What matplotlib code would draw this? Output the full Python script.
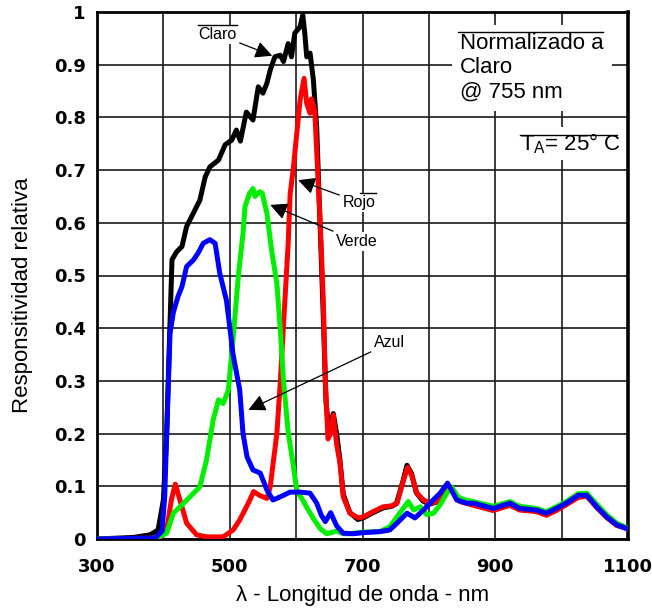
import matplotlib
matplotlib.use('Agg')
import matplotlib.pyplot as plt
from matplotlib.lines import Line2D

# wavelength (nm) / relative responsivity
claro_x = [300, 355, 380, 392, 400, 405, 408, 413, 420, 428, 435, 445, 455, 463, 470, 483,
           493, 503, 510, 516, 525, 535, 543, 550, 556, 561, 568, 576, 581, 588, 593, 598,
           606, 610, 613, 616, 621, 626, 631, 636, 641, 645, 649, 656, 661, 666, 671, 681,
           693, 701, 716, 731, 744, 751, 761, 767, 774, 781, 791, 801, 811, 821, 829, 837,
           847, 867, 897, 922, 937, 962, 977, 992, 1007, 1025, 1038, 1053, 1068, 1083, 1098]
claro_y = [0, 0.003, 0.008, 0.017, 0.074, 0.2, 0.33, 0.53, 0.545, 0.555, 0.593, 0.618, 0.643,
           0.687, 0.706, 0.719, 0.748, 0.757, 0.776, 0.755, 0.81, 0.795, 0.858, 0.846, 0.865,
           0.89, 0.915, 0.918, 0.906, 0.94, 0.915, 0.96, 0.972, 0.994, 0.96, 0.915, 0.922,
           0.871, 0.78, 0.6, 0.42, 0.26, 0.21, 0.238, 0.2, 0.15, 0.085, 0.05, 0.037, 0.04, 0.05,
           0.059, 0.062, 0.067, 0.11, 0.14, 0.124, 0.088, 0.072, 0.066, 0.07, 0.084, 0.1, 0.088,
           0.072, 0.065, 0.055, 0.065, 0.056, 0.053, 0.046, 0.055, 0.066, 0.08, 0.082, 0.06,
           0.041, 0.026, 0.02]

rojo_x = [300, 395, 405, 412, 418, 425, 435, 450, 465, 490, 505, 515, 528, 536, 546, 556, 561,
          566, 571, 576, 583, 588, 591, 596, 601, 606, 612, 616, 621, 623, 628, 632, 637, 641,
          644, 648, 652, 656, 661, 666, 671, 681, 694, 701, 716, 731, 744, 752, 762, 768, 774,
          782, 792, 802, 812, 822, 829, 837, 847, 867, 897, 922, 937, 962, 977, 992, 1007,
          1025, 1038, 1053, 1068, 1083, 1098]
rojo_y = [0, 0.002, 0.017, 0.074, 0.104, 0.074, 0.03, 0.008, 0.004, 0.004, 0.017, 0.036,
          0.068, 0.09, 0.082, 0.077, 0.099, 0.15, 0.2, 0.295, 0.45, 0.56, 0.654, 0.706, 0.77,
          0.833, 0.874, 0.826, 0.808, 0.835, 0.814, 0.71, 0.58, 0.45, 0.3, 0.19, 0.2, 0.235,
          0.18, 0.144, 0.08, 0.049, 0.04, 0.042, 0.052, 0.061, 0.063, 0.068, 0.112, 0.136,
          0.121, 0.087, 0.074, 0.068, 0.071, 0.083, 0.099, 0.087, 0.071, 0.064, 0.054, 0.064,
          0.055, 0.052, 0.045, 0.054, 0.065, 0.079, 0.081, 0.06, 0.041, 0.026, 0.02]

verde_x = [300, 370, 390, 405, 415, 425, 440, 455, 465, 475, 483, 490, 498, 505, 513, 520,
           523, 530, 535, 538, 545, 549, 556, 563, 571, 576, 581, 588, 596, 601, 608, 616,
           626, 636, 646, 661, 671, 681, 701, 726, 741, 756, 769, 777, 787, 797, 807, 817,
           827, 834, 844, 852, 867, 897, 922, 937, 962, 977, 992, 1007, 1025, 1038, 1053,
           1068, 1083, 1100]
verde_y = [0, 0, 0.002, 0.011, 0.049, 0.061, 0.08, 0.099, 0.15, 0.226, 0.264, 0.257, 0.283,
           0.38, 0.5, 0.58, 0.631, 0.656, 0.665, 0.65, 0.659, 0.656, 0.618, 0.548, 0.485, 0.4,
           0.3, 0.203, 0.137, 0.092, 0.078, 0.06, 0.039, 0.02, 0.01, 0.015, 0.01, 0.01, 0.013,
           0.014, 0.023, 0.049, 0.071, 0.055, 0.061, 0.046, 0.049, 0.065, 0.087, 0.099, 0.08,
           0.075, 0.071, 0.062, 0.071, 0.062, 0.058, 0.052, 0.061, 0.071, 0.086, 0.087, 0.066,
           0.046, 0.03, 0.02]

azul_x = [300, 388, 398, 402, 405, 410, 415, 422, 428, 435, 445, 452, 460, 470, 478, 485, 495,
          500, 505, 515, 520, 526, 535, 546, 556, 565, 576, 591, 606, 621, 631, 638, 644, 652,
          661, 671, 686, 701, 726, 741, 752, 767, 779, 792, 804, 817, 828, 834, 842, 857, 867,
          897, 922, 937, 962, 977, 992, 1007, 1025, 1038, 1053, 1068, 1083, 1098]
azul_y = [0, 0.002, 0.015, 0.08, 0.2, 0.39, 0.43, 0.46, 0.479, 0.517, 0.529, 0.542, 0.561,
          0.568, 0.561, 0.504, 0.453, 0.402, 0.35, 0.283, 0.2, 0.156, 0.131, 0.125, 0.093,
          0.074, 0.08, 0.089, 0.089, 0.087, 0.068, 0.045, 0.033, 0.05, 0.025, 0.011, 0.01,
          0.012, 0.014, 0.017, 0.03, 0.049, 0.04, 0.055, 0.071, 0.087, 0.106, 0.093, 0.074,
          0.068, 0.068, 0.058, 0.068, 0.058, 0.055, 0.049, 0.058, 0.068, 0.083, 0.083, 0.061,
          0.042, 0.027, 0.02]

x_ticks = [300, 500, 700, 900, 1100]
y_ticks = [0, 0.1, 0.2, 0.3, 0.4, 0.5, 0.6, 0.7, 0.8, 0.9, 1]
y_tick_labels = ['0', '0.1', '0.2', '0.3', '0.4', '0.5', '0.6', '0.7', '0.8', '0.9', '1']

plt.rcParams['font.family'] = ['Liberation Sans', 'DejaVu Sans']

fig = plt.figure(figsize=(6.52, 6.09), dpi=100)
ax = fig.add_axes([97/652, 70/609, 531/652, 527/609])

lw = 3.6
ax.plot(claro_x, claro_y, color='black', lw=lw, solid_joinstyle='round', zorder=3)
ax.plot(rojo_x, rojo_y, color='#ff0000', lw=lw, solid_joinstyle='round', zorder=4)
ax.plot(verde_x, verde_y, color='#00ee00', lw=lw, solid_joinstyle='round', zorder=5)
ax.plot(azul_x, azul_y, color='#0000ff', lw=lw, solid_joinstyle='round', zorder=6)

ax.set_xlim(300, 1100)
ax.set_ylim(0, 1)
grid_x = list(range(300, 1101, 100))
ax.set_xticks(grid_x)
ax.set_xticklabels([str(v) if v in x_ticks else '' for v in grid_x],
                   fontfamily='DejaVu Sans', fontweight='bold', fontsize=13)
ax.set_yticks(y_ticks)
ax.set_yticklabels(y_tick_labels, fontfamily='DejaVu Sans', fontweight='bold', fontsize=13)
ax.tick_params(axis='x', length=0, pad=14)
ax.tick_params(axis='y', length=0, pad=8)
ax.grid(True, color='#1a1a1a', lw=1.2, zorder=1)
ax.set_axisbelow(True)
for s in ax.spines.values():
    s.set_linewidth(2)
ax.spines['right'].set_linewidth(2.6)

ax.set_xlabel('λ - Longitud de onda - nm', fontsize=16, labelpad=6)
ax.set_ylabel('Responsitividad relativa', fontsize=16)
ax.yaxis.set_label_coords(-0.121, 0.462)

box = dict(facecolor='white', edgecolor='none', pad=1.5)
arrow = dict(arrowstyle='-|>,head_length=0.9,head_width=0.45', color='black', lw=0.9,
             shrinkA=1, shrinkB=0)
ax.annotate('Claro', xy=(564, 0.917), xytext=(481, 0.958), fontsize=11.5,
            ha='center', va='center', bbox=box, arrowprops=arrow, zorder=8)
ax.annotate('Rojo', xy=(603, 0.681), xytext=(695, 0.639), fontsize=11.5,
            ha='center', va='center', bbox=box, arrowprops=arrow, zorder=8)
ax.annotate('Verde', xy=(561, 0.634), xytext=(692, 0.565), fontsize=11.5,
            ha='center', va='center', bbox=box, arrowprops=arrow, zorder=8)
ax.annotate('Azul', xy=(528, 0.245), xytext=(741, 0.372), fontsize=11.5,
            ha='center', va='center', bbox=box, arrowprops=arrow, zorder=8)

ax.text(0.684, 0.96, 'Normalizado a\nClaro\n@ 755 nm', transform=ax.transAxes,
        fontsize=16, ha='left', va='top', linespacing=1.2,
        bbox=dict(facecolor='white', edgecolor='none', pad=6), zorder=8)
ax.text(0.797, 0.75, 'T$_\\mathregular{A}$= 25° C', transform=ax.transAxes,
        fontsize=16, ha='left', va='center',
        bbox=dict(facecolor='white', edgecolor='none', pad=3), zorder=8)

# thin overlines left over from the original text boxes
for x0, x1, y in [(198, 237, 25), (458, 603, 32), (520, 617, 135), (360, 376, 193)]:
    fig.add_artist(Line2D([x0/652, x1/652], [1 - y/609, 1 - y/609], color='black', lw=1))

fig.savefig('out.png', dpi=100)
